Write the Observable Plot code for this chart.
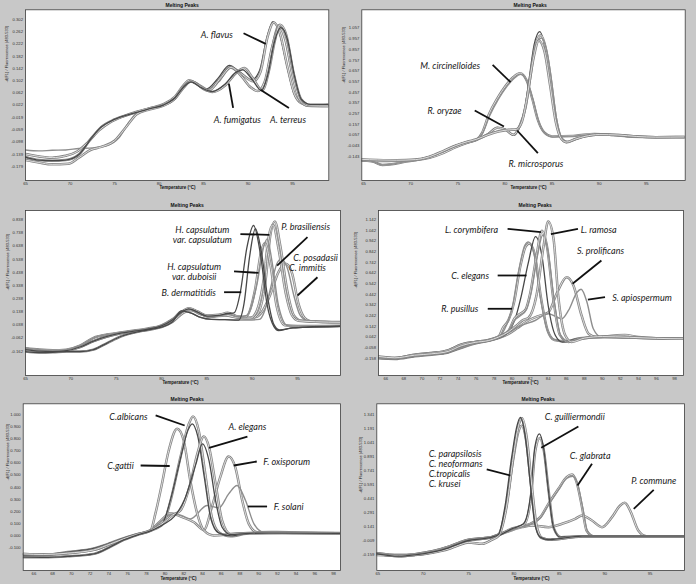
<!DOCTYPE html>
<html><head><meta charset="utf-8">
<script src="https://cdn.jsdelivr.net/npm/d3@7"></script>
<script src="https://cdn.jsdelivr.net/npm/@observablehq/plot@0.6"></script>
<style>
html,body{margin:0;padding:0;background:#c8c8c8;}
#root{position:relative;width:696px;height:584px;overflow:hidden;background:#c8c8c8;}
#root svg{position:absolute;}
</style></head><body><div id="root"></div>
<script>
// ---------- shared text ----------
const titleText = "Melting Peaks";
const xAxisLabel = "Temperature (°C)";
const yAxisLabel = "-d(F1) / Fluorescence (483-533)";
const xTicks5 = [65,70,75,80,85,90,95];
const xTicks2 = [66,68,70,72,74,76,78,80,82,84,86,88,90,92,94,96,98];

// ---------- panel 1 : Aspergillus ----------
const p1_yticks = [0.302,0.262,0.222,0.182,0.142,0.102,0.062,0.022,-0.019,-0.059,-0.098,-0.139,-0.179];
const p1_low_a = [[65,-0.138],[66.5,-0.146],[68,-0.15],[69.5,-0.144],[70.8,-0.13],[72,-0.1],[73.3,-0.06],[74.5,-0.035],[76,-0.015],[77.5,0.0]];
const p1_low_b = [[65,-0.158],[66.5,-0.166],[68,-0.172],[69.8,-0.17],[71,-0.15],[72.3,-0.125],[73.5,-0.115],[75,-0.095],[76.3,-0.05],[77.5,-0.008]];
const p1_low_c = [[65,-0.125],[66.5,-0.128],[68,-0.126],[69.5,-0.125],[71,-0.12],[72.5,-0.118],[74,-0.112],[75.5,-0.085],[76.6,-0.035],[77.6,-0.002]];
const p1_low_d = [[65,-0.148],[66.5,-0.158],[68,-0.16],[69.5,-0.158],[71,-0.14],[72.3,-0.09],[73.5,-0.05],[75,-0.025],[76.5,-0.01],[77.7,0.0]];
const p1_flavus_a = [[79,0.01],[80.5,0.024],[81.8,0.048],[82.6,0.08],[83.3,0.1],[84.2,0.09],[85.3,0.074],[86.6,0.108],[87.9,0.152],[89.1,0.13],[90.4,0.104],[91.3,0.135],[92.1,0.24],[92.8,0.295],[93.5,0.262],[94.3,0.16],[95.1,0.065],[95.9,0.03],[96.8,0.02],[99.1,0.024]];
const p1_flavus_b = [[79,0.012],[80.5,0.025],[81.8,0.05],[82.7,0.085],[83.4,0.103],[84.3,0.09],[85.4,0.07],[86.7,0.1],[88,0.145],[89.2,0.125],[90.6,0.1],[91.4,0.13],[92.2,0.245],[92.9,0.292],[93.6,0.255],[94.4,0.15],[95.2,0.06],[96,0.028],[97,0.02],[99.1,0.022]];
const p1_fumig_a = [[79,0.01],[80.5,0.02],[81.8,0.042],[82.7,0.078],[83.5,0.098],[84.5,0.085],[85.5,0.068],[86.8,0.108],[88,0.148],[89.2,0.118],[90.2,0.082],[91,0.068],[91.8,0.09],[92.6,0.2],[93.4,0.285],[94.1,0.245],[94.9,0.13],[95.7,0.045],[96.6,0.022],[99.1,0.02]];
const p1_fumig_b = [[79,0.012],[80.5,0.022],[81.8,0.044],[82.7,0.08],[83.6,0.1],[84.6,0.086],[85.6,0.07],[86.9,0.11],[88.1,0.145],[89.3,0.115],[90.3,0.08],[91.1,0.068],[91.9,0.1],[92.7,0.21],[93.5,0.276],[94.2,0.235],[95,0.12],[95.8,0.04],[96.7,0.02],[99.1,0.018]];
const p1_terreus_a = [[79,0.008],[80.5,0.02],[81.8,0.043],[82.8,0.08],[83.6,0.1],[84.8,0.08],[86,0.065],[87.4,0.085],[88.7,0.128],[89.6,0.143],[90.5,0.112],[91.6,0.07],[92.4,0.14],[93,0.23],[93.6,0.285],[94.3,0.252],[95.1,0.13],[96,0.04],[97,0.022],[99.1,0.022]];
const p1_terreus_b = [[79,0.01],[80.5,0.022],[81.8,0.046],[82.8,0.082],[83.6,0.098],[84.8,0.078],[86,0.066],[87.4,0.09],[88.6,0.128],[89.4,0.137],[90.4,0.108],[91.5,0.07],[92.3,0.13],[92.9,0.22],[93.7,0.275],[94.4,0.24],[95.2,0.12],[96,0.04],[97,0.024],[99.1,0.024]];
const p1_labels = [{text:"A. flavus",x:86.5,y:0.252},{text:"A. fumigatus",x:88.8,y:-0.025},{text:"A. terreus",x:94.5,y:-0.025}];
const p1_leaders = [{x1:89.5,y1:0.257,x2:92.0,y2:0.222},{x1:87.85,y1:0.092,x2:88.33,y2:0.013},{x1:91.4,y1:0.072,x2:94.6,y2:0.012}];

// ---------- panel 2 : Mucorales ----------
const p2_yticks = [1.057,0.957,0.857,0.757,0.657,0.557,0.457,0.357,0.257,0.157,0.057,-0.043,-0.143];
const p2_low_a = [[64.8,-0.175],[66,-0.19],[67,-0.222],[68,-0.215],[69.5,-0.19],[71,-0.17],[72.3,-0.14],[73.5,-0.095],[74.8,-0.045],[76,-0.01],[77,0.015]];
const p2_low_b = [[64.8,-0.17],[66.5,-0.175],[68.5,-0.178],[70.5,-0.172],[72,-0.145],[73.5,-0.09],[74.8,-0.04],[76,-0.005],[77,0.018]];
const p2_low_c = [[64.8,-0.18],[66.5,-0.185],[68.5,-0.183],[70.5,-0.175],[72,-0.155],[73.5,-0.11],[74.8,-0.055],[76,-0.015],[77,0.012]];
const p2_circ_a = [[77.6,0.08],[78.3,0.25],[79.2,0.4],[80.1,0.52],[80.9,0.6],[81.6,0.636],[82.3,0.57],[82.9,0.4],[83.5,0.2],[84.2,0.08],[85,0.045],[86,0.047],[87.5,0.052],[89.5,0.068],[91.5,0.058],[93.5,0.042],[96,0.038],[99.2,0.038]];
const p2_circ_b = [[77.6,0.07],[78.4,0.24],[79.3,0.39],[80.2,0.51],[81,0.59],[81.7,0.625],[82.4,0.55],[83,0.38],[83.6,0.18],[84.3,0.07],[85.1,0.04],[86,0.045],[87.5,0.05],[89.5,0.064],[91.5,0.056],[93.5,0.04],[96,0.036],[99.2,0.036]];
const p2_oryzae_a = [[78.2,0.07],[79.2,0.13],[80.1,0.11],[80.9,0.055],[81.6,0.14],[82.1,0.3],[82.6,0.6],[83.1,0.9],[83.7,1.025],[84.3,0.86],[84.7,0.65],[85.3,0.24],[85.9,0.04],[86.5,-0.012],[87.5,0.02],[88.5,0.045],[90,0.065],[92,0.06],[94,0.045],[96,0.038],[99.2,0.04]];
const p2_oryzae_b = [[78.2,0.065],[79.2,0.125],[80.1,0.105],[80.9,0.06],[81.6,0.15],[82.2,0.32],[82.7,0.6],[83.2,0.88],[83.8,0.99],[84.4,0.84],[84.8,0.62],[85.4,0.22],[86,0.03],[86.6,-0.01],[87.5,0.02],[88.5,0.045],[90,0.062],[92,0.058],[94,0.044],[96,0.038],[99.2,0.04]];
const p2_micro_a = [[78.2,0.065],[79.3,0.095],[80.3,0.11],[81.2,0.115],[81.8,0.2],[82.3,0.38],[82.8,0.66],[83.3,0.9],[83.9,0.965],[84.5,0.82],[84.9,0.6],[85.5,0.2],[86.1,0.02],[86.7,-0.005],[87.6,0.02],[88.6,0.045],[90,0.06],[92,0.058],[94,0.043],[96,0.038],[99.2,0.04]];
const p2_micro_b = [[78.2,0.06],[79.3,0.09],[80.3,0.105],[81.2,0.11],[81.8,0.18],[82.3,0.38],[83,0.76],[83.6,0.94],[84.2,0.84],[84.8,0.52],[85.4,0.18],[86,0.02],[86.5,-0.008],[87.5,0.02],[88.5,0.045],[90,0.062],[92,0.058],[94,0.044],[96,0.038],[99.2,0.04]];
const p2_labels = [{text:"M. circinelloides",x:74.2,y:0.708},{text:"R. oryzae",x:73.6,y:0.287},{text:"R. microsporus",x:83.3,y:-0.212}];
const p2_leaders = [{x1:78.7,y1:0.714,x2:80.6,y2:0.552},{x1:76.8,y1:0.287,x2:79.9,y2:0.137},{x1:81.3,y1:0.1,x2:83.5,y2:-0.112}];

// ---------- panel 3 : dimorphic fungi ----------
const p3_yticks = [0.838,0.738,0.638,0.538,0.438,0.338,0.238,0.138,0.038,-0.062,-0.162];
const p3_low_a = [[65,-0.15],[66.5,-0.162],[68,-0.165],[69.5,-0.158],[71,-0.13],[72.5,-0.085],[74,-0.05],[75.5,-0.025],[77,-0.01],[78.5,0.005],[80,0.03],[81.2,0.075]];
const p3_low_b = [[65,-0.165],[66.5,-0.172],[68,-0.17],[69.5,-0.165],[71,-0.165],[72.5,-0.15],[74,-0.1],[75.5,-0.05],[77,-0.02],[78.5,0.0],[80,0.022],[81.2,0.06]];
const p3_low_c = [[65,-0.14],[66.5,-0.15],[68,-0.155],[69.5,-0.15],[71,-0.12],[72.5,-0.06],[74,-0.035],[75.5,-0.02],[77,-0.005],[78.5,0.01],[80,0.035],[81.2,0.08]];
const p3_derm = [[82.1,0.13],[83,0.16],[84,0.135],[85,0.105],[86.3,0.11],[87.3,0.125],[88,0.13],[88.7,0.29],[89.4,0.62],[90.15,0.795],[90.9,0.58],[91.65,0.19],[92.4,0.025],[92.9,-0.005],[94.2,0.013],[96,0.02],[99.8,0.026]];
const p3_capsA = [[82.2,0.145],[83.2,0.13],[84.3,0.095],[85.5,0.08],[87,0.078],[88.5,0.075],[89.1,0.2],[89.7,0.55],[90.35,0.77],[91.0,0.6],[91.7,0.25],[92.4,0.04],[93.0,0.0],[94.5,0.015],[96,0.022],[99.8,0.028]];
const p3_dubo = [[82.3,0.14],[83.2,0.155],[84.2,0.125],[85.2,0.1],[86.5,0.11],[87.4,0.12],[88.5,0.1],[89.4,0.11],[90.5,0.34],[91.3,0.64],[91.65,0.693],[92.2,0.515],[92.9,0.186],[93.9,0.033],[95,0.03],[97,0.03],[99.8,0.033]];
const p3_dubo_b = [[82.1,0.13],[83,0.165],[84,0.14],[85,0.11],[86.3,0.115],[87.3,0.13],[88.3,0.105],[89.3,0.1],[90.3,0.3],[91.0,0.6],[91.4,0.66],[92.0,0.5],[92.7,0.18],[93.6,0.035],[95,0.03],[97,0.03],[99.8,0.032]];
const p3_bras = [[82.4,0.13],[83.3,0.15],[84.3,0.12],[85.5,0.1],[87,0.11],[88.5,0.095],[90,0.09],[90.6,0.12],[91.5,0.39],[92,0.72],[92.5,0.825],[93.1,0.64],[93.9,0.287],[94.6,0.11],[95.3,0.072],[97,0.064],[99.8,0.06]];
const p3_bras_b = [[82.3,0.14],[83.2,0.16],[84.2,0.125],[85.3,0.1],[86.8,0.115],[88.3,0.095],[89.8,0.09],[90.4,0.13],[91.3,0.4],[91.8,0.7],[92.3,0.8],[92.9,0.62],[93.7,0.28],[94.4,0.11],[95.1,0.07],[97,0.062],[99.8,0.058]];
const p3_posa = [[82.2,0.145],[83.2,0.13],[84.3,0.095],[85.5,0.08],[87,0.078],[88.5,0.075],[89.5,0.075],[90.8,0.08],[91.4,0.15],[92.0,0.31],[92.7,0.5],[93.2,0.541],[93.9,0.465],[94.6,0.26],[95.3,0.11],[96.1,0.07],[97.5,0.065],[99.8,0.062]];
const p3_immi = [[82.1,0.13],[83,0.16],[84,0.135],[85,0.105],[86.3,0.11],[87.3,0.125],[88.4,0.1],[89.5,0.09],[90.5,0.1],[91.2,0.15],[92,0.27],[92.9,0.44],[93.7,0.503],[94.4,0.43],[95.1,0.2],[95.8,0.09],[96.5,0.065],[98,0.06],[99.8,0.058]];
const p3_labels = [{text:"H. capsulatum\nvar. capsulatum",x:84.5,y:0.725},{text:"H. capsulatum\nvar. duboisii",x:83.6,y:0.44},{text:"B. dermatitidis",x:83.0,y:0.282},{text:"P. brasiliensis",x:95.9,y:0.782},{text:"C. posadasii",x:97.0,y:0.546},{text:"C. immitis",x:96.1,y:0.470}];
const p3_leaders = [{x1:88.7,y1:0.729,x2:91.9,y2:0.724},{x1:88.0,y1:0.445,x2:90.7,y2:0.434},{x1:86.9,y1:0.287,x2:88.8,y2:0.287},{x1:96.1,y1:0.706,x2:92.75,y2:0.49},{x1:97.2,y1:0.401,x2:95.0,y2:0.262}];

// ---------- panel 4 : Mucorales / Scedosporium ----------
const p4_yticks = [1.142,1.042,0.942,0.842,0.742,0.642,0.542,0.442,0.342,0.242,0.142,0.042,-0.058,-0.158];
const p4_low_a = [[65.2,-0.142],[67,-0.155],[69.2,-0.13],[71.1,-0.117],[72.9,-0.095],[74.4,-0.04],[75.9,-0.01],[77.4,0.008],[78.5,0.04]];
const p4_low_b = [[65.2,-0.16],[67,-0.165],[69.2,-0.14],[71.1,-0.125],[72.9,-0.105],[74.4,-0.06],[75.9,-0.02],[77.4,0.005],[78.5,0.03]];
const p4_low_c = [[65.2,-0.15],[67,-0.158],[69.2,-0.125],[71.1,-0.11],[72.9,-0.085],[74.4,-0.03],[75.9,-0.005],[77.4,0.012],[78.5,0.045]];
const p4_pus = [[79.2,0.12],[80,0.31],[80.7,0.65],[81.4,0.9],[81.8,0.935],[82.4,0.84],[83.1,0.43],[83.85,0.12],[84.6,0.017],[85.9,0.0],[87.5,0.03],[90,0.04],[93,0.035],[96,0.028],[99,0.024]];
const p4_pus_b = [[79.0,0.13],[79.6,0.2],[80.2,0.36],[80.9,0.7],[81.5,0.89],[81.9,0.92],[82.5,0.82],[83.2,0.41],[83.95,0.1],[84.7,0.012],[86,0.0],[87.5,0.03],[90,0.04],[93,0.035],[96,0.028],[99,0.024]];
const p4_eleg = [[79.5,0.08],[80.3,0.2],[81.0,0.42],[81.8,0.74],[82.6,0.985],[83.3,0.807],[84.0,0.337],[84.8,0.055],[85.6,-0.008],[87,0.02],[89,0.04],[92,0.04],[95,0.03],[99,0.024]];
const p4_cory = [[79.6,0.1],[80.3,0.22],[80.9,0.26],[81.5,0.3],[82,0.45],[82.7,0.8],[83.3,1.04],[83.85,0.9],[84.6,0.38],[85.3,0.06],[86.25,-0.005],[87.5,0.025],[90,0.04],[93,0.036],[96,0.028],[99,0.024]];
const p4_cory_b = [[79.6,0.1],[80.3,0.2],[80.9,0.24],[81.6,0.3],[82.1,0.45],[82.8,0.8],[83.4,1.0],[83.95,0.86],[84.7,0.36],[85.4,0.05],[86.3,-0.005],[87.5,0.025],[90,0.04],[93,0.036],[96,0.028],[99,0.024]];
const p4_ramo = [[79.6,0.09],[80.5,0.15],[81.2,0.2],[81.8,0.22],[82.7,0.43],[83.5,0.9],[84.0,1.126],[84.6,0.96],[85.1,0.44],[85.9,0.055],[86.6,-0.005],[88,0.03],[90,0.045],[93,0.038],[96,0.028],[99,0.024]];
const p4_prol = [[79.6,0.07],[80.5,0.12],[81.8,0.196],[83,0.24],[84,0.27],[85,0.46],[86.05,0.603],[86.8,0.525],[87.7,0.243],[88.5,0.07],[89.4,0.04],[91.4,0.055],[92.5,0.06],[94,0.04],[96,0.028],[99,0.024]];
const p4_apio = [[79.6,0.08],[80.8,0.14],[82.55,0.196],[84,0.26],[85.5,0.212],[86.25,0.29],[87.2,0.462],[87.65,0.49],[88.3,0.368],[89,0.118],[89.9,0.04],[91.5,0.045],[93,0.04],[96,0.028],[99,0.024]];
const p4_labels = [{text:"L. corymbifera",x:75.5,y:1.048},{text:"L. ramosa",x:89.6,y:1.048},{text:"C. elegans",x:75.35,y:0.613},{text:"R. pusillus",x:74.2,y:0.306},{text:"S. prolificans",x:89.8,y:0.854},{text:"S. apiospermum",x:94.4,y:0.409}];
const p4_leaders = [{x1:79.5,y1:1.057,x2:83.2,y2:1.026},{x1:87.3,y1:1.057,x2:84.3,y2:1.007},{x1:78.4,y1:0.619,x2:81.6,y2:0.619},{x1:77.3,y1:0.306,x2:80.0,y2:0.306},{x1:89.9,y1:0.76,x2:86.7,y2:0.541},{x1:90.3,y1:0.415,x2:88.4,y2:0.393}];

// ---------- panel 5 : Candida / Fusarium ----------
const p5_yticks = [1.0,0.9,0.8,0.7,0.6,0.5,0.4,0.3,0.2,0.1,0.0,-0.1];
const p5_low_a = [[64.9,-0.15],[67,-0.155],[69.6,-0.144],[72.4,-0.117],[74.2,-0.067],[75.6,-0.026],[77,0.01],[78.45,0.043]];
const p5_low_b = [[64.9,-0.177],[67,-0.178],[69.6,-0.17],[72.4,-0.15],[74.2,-0.09],[75.6,-0.035],[77,0.005],[78.45,0.04]];
const p5_low_c = [[64.9,-0.16],[67,-0.16],[69.6,-0.135],[72.4,-0.105],[74.2,-0.06],[75.6,-0.02],[77,0.012],[78.45,0.045]];
const p5_gattii = [[79.0,0.19],[79.6,0.4],[80.4,0.703],[81.3,0.882],[82,0.785],[82.7,0.455],[83.45,0.18],[84.15,0.043],[85.2,0.002],[87.35,0.015],[90,0.025],[94,0.022],[98.8,0.02]];
const p5_albA = [[79.8,0.1],[80.6,0.29],[81.65,0.648],[82.55,0.923],[83.0,0.983],[83.6,0.868],[84.3,0.51],[85.0,0.153],[85.75,0.029],[87,-0.004],[89.1,0.021],[93,0.022],[98.8,0.02]];
const p5_albB = [[79.8,0.11],[80.6,0.3],[81.6,0.62],[82.45,0.87],[82.9,0.923],[83.5,0.82],[84.2,0.48],[84.9,0.14],[85.7,0.025],[87,-0.002],[89,0.02],[93,0.022],[98.8,0.02]];
const p5_elegA = [[79.9,0.11],[80.8,0.17],[81.65,0.208],[82.7,0.428],[83.45,0.675],[84.15,0.818],[84.7,0.73],[85.4,0.428],[86.1,0.125],[87,0.015],[89,0.02],[93,0.022],[98.8,0.02]];
const p5_elegB = [[80,0.1],[81,0.16],[82.1,0.3],[83.3,0.59],[84.0,0.758],[84.7,0.62],[85.4,0.29],[86.1,0.07],[87,0.01],[89,0.02],[93,0.022],[98.8,0.02]];
const p5_oxy = [[79.5,0.12],[80.6,0.186],[81.85,0.153],[83.1,0.111],[84.15,0.048],[85,0.235],[85.9,0.483],[86.8,0.653],[87.5,0.566],[88.25,0.29],[88.95,0.098],[89.85,0.029],[92,0.03],[95,0.025],[98.8,0.022]];
const p5_sol = [[79.6,0.12],[80.95,0.18],[81.8,0.165],[82.7,0.139],[84.5,0.249],[85.75,0.23],[86.8,0.345],[87.7,0.414],[88.6,0.29],[89.5,0.098],[90.55,0.029],[93,0.028],[98.8,0.022]];
const p5_labels = [{text:"C.albicans",x:76.1,y:0.983},{text:"C.gattii",x:75.25,y:0.579},{text:"A. elegans",x:88.8,y:0.901},{text:"F. oxisporum",x:93.0,y:0.607},{text:"F. solani",x:93.2,y:0.235}];
const p5_leaders = [{x1:79.0,y1:0.992,x2:82.1,y2:0.909},{x1:77.4,y1:0.579,x2:80.5,y2:0.575},{x1:88.8,y1:0.818,x2:84.7,y2:0.725},{x1:89.8,y1:0.612,x2:87.35,y2:0.579},{x1:90.9,y1:0.241,x2:88.85,y2:0.241}];

// ---------- panel 6 : yeasts ----------
const p6_yticks = [1.341,1.191,1.041,0.891,0.741,0.591,0.441,0.291,0.141,-0.009,-0.159];
const p6_low_a = [[64.9,-0.152],[67.3,-0.177],[69.1,-0.163],[71,-0.134],[72.8,-0.088],[73.9,-0.045],[75,-0.009],[76.5,0.009],[77.6,0.027],[78.3,0.055]];
const p6_low_b = [[64.9,-0.165],[67.3,-0.172],[69.1,-0.165],[71,-0.14],[72.8,-0.1],[73.9,-0.06],[75,-0.03],[76.5,-0.045],[77.6,0.0],[78.3,0.04]];
const p6_low_c = [[64.9,-0.145],[67.3,-0.165],[69.1,-0.155],[71,-0.125],[72.8,-0.075],[73.9,-0.035],[75,0.0],[76.5,0.015],[77.6,0.03],[78.3,0.05]];
const p6_para = [[79,0.348],[79.75,0.884],[80.3,1.205],[80.7,1.31],[81.2,1.134],[81.8,0.6],[82.3,0.17],[82.9,0.027],[83.8,0.0],[87.5,0.037],[98.8,0.037]];
const p6_neo = [[79.2,0.36],[79.95,0.9],[80.5,1.22],[80.9,1.3],[81.4,1.1],[82.0,0.55],[82.5,0.15],[83.1,0.02],[84,0.0],[87.5,0.035],[98.8,0.035]];
const p6_trop = [[79.1,0.34],[79.85,0.87],[80.4,1.18],[80.8,1.28],[81.3,1.1],[81.9,0.55],[82.4,0.15],[83,0.02],[84,0.0],[87.5,0.036],[98.8,0.036]];
const p6_krus = [[79.1,0.33],[79.9,0.85],[80.5,1.16],[80.85,1.22],[81.35,1.06],[81.95,0.52],[82.45,0.14],[83,0.02],[84,0.0],[87.5,0.036],[98.8,0.036]];
const p6_guil = [[79.75,0.116],[81.05,0.17],[81.8,0.455],[82.3,0.991],[82.8,1.134],[83.25,0.99],[83.8,0.527],[84.35,0.134],[85.1,0.027],[87,0.035],[98.8,0.037]];
const p6_guil_b = [[79.8,0.12],[81.1,0.16],[81.85,0.43],[82.35,0.95],[82.85,1.09],[83.3,0.95],[83.85,0.5],[84.4,0.12],[85.2,0.025],[87,0.035],[98.8,0.036]];
const p6_glab = [[80.5,0.134],[81.8,0.17],[82.9,0.241],[83.8,0.384],[84.9,0.545],[85.8,0.67],[86.4,0.698],[86.9,0.616],[87.5,0.348],[88,0.098],[88.75,0.037],[92,0.037],[98.8,0.037]];
const p6_glab_b = [[80.5,0.13],[81.8,0.165],[82.9,0.23],[83.8,0.37],[84.9,0.53],[85.8,0.655],[86.5,0.68],[87,0.6],[87.6,0.33],[88.1,0.09],[88.8,0.035],[92,0.036],[98.8,0.036]];
const p6_comm = [[80.9,0.134],[82,0.152],[83.8,0.134],[85.3,0.17],[86.75,0.223],[87.5,0.259],[88.6,0.205],[89.7,0.134],[90.8,0.241],[91.7,0.366],[92.2,0.395],[92.8,0.312],[93.7,0.098],[94.6,0.037],[98.8,0.037]];
const p6_labels = [{text:"C. guilliermondii",x:86.7,y:1.32},{text:"C. glabrata",x:88.4,y:0.902},{text:"P. commune",x:95.4,y:0.634}];
const p6_list = [{text:"C. parapsilosis\nC. neoformans\nC.tropicalis\nC. krusei",x:70.6,y:0.759}];
const p6_leaders = [{x1:77.0,y1:0.752,x2:79.6,y2:0.687},{x1:87.1,y1:1.212,x2:83.0,y2:0.984},{x1:88.6,y1:0.812,x2:87.0,y2:0.58},{x1:95.4,y1:0.534,x2:93.2,y2:0.33}];

// ---------- layout (absolute pixel frames) ----------
const panels = [
  {left:0,top:0,w:348,h:195,frame:[25,328.3,9.3,180],xd:[65,99.08],yd:[-0.2248,0.3336],xt:xTicks5,yt:p1_yticks,
   series:[[p1_low_a,p1_flavus_a,"dark"],[p1_low_d,p1_flavus_b,"light"],[p1_low_c,p1_fumig_a,"mid"],[p1_low_a,p1_fumig_b,"light"],[p1_low_b,p1_terreus_a,"light"],[p1_low_d,p1_terreus_b,"dark"]],
   labels:p1_labels,list:[],leaders:p1_leaders,title:[165,3],ylab:[6,82],xlab:[177,188.6]},
  {left:348,top:0,w:348,h:195,frame:[361.3,684.7,9.3,180],xd:[64.82,99.13],yd:[-0.3674,1.2284],xt:xTicks5,yt:p2_yticks,
   series:[[p2_low_a,p2_circ_a,"light"],[p2_low_c,p2_circ_b,"mid"],[p2_low_b,p2_oryzae_a,"dark"],[p2_low_c,p2_oryzae_b,"light"],[p2_low_a,p2_micro_a,"mid"],[p2_low_b,p2_micro_b,"light"]],
   labels:p2_labels,list:[],leaders:p2_leaders,title:[513,3],ylab:[343.5,83],xlab:[528,188.6]},
  {left:0,top:195,w:348,h:195,frame:[25,340,210,375],xd:[65,99.74],yd:[-0.347,0.909],xt:xTicks5,yt:p3_yticks,
   series:[[p3_low_a,p3_immi,"light"],[p3_low_c,p3_posa,"mid"],[p3_low_b,p3_bras,"light"],[p3_low_c,p3_bras_b,"light"],[p3_low_a,p3_dubo_b,"light"],[p3_low_c,p3_dubo,"mid"],[p3_low_b,p3_capsA,"dark"],[p3_low_a,p3_derm,"dark"]],
   labels:p3_labels,list:[],leaders:p3_leaders,title:[170,203],ylab:[7,290],xlab:[180,383.8]},
  {left:348,top:195,w:348,h:195,frame:[378,683,210,375],xd:[65.19,99.0],yd:[-0.321,1.2297],xt:xTicks2,yt:p4_yticks,
   series:[[p4_low_b,p4_prol,"light"],[p4_low_c,p4_apio,"mid"],[p4_low_c,p4_pus_b,"light"],[p4_low_a,p4_pus,"mid"],[p4_low_b,p4_eleg,"dark"],[p4_low_c,p4_cory,"light"],[p4_low_b,p4_cory_b,"mid"],[p4_low_a,p4_ramo,"light"]],
   labels:p4_labels,list:[],leaders:p4_leaders,title:[518,203],ylab:[355,288],xlab:[520,383.8]},
  {left:0,top:390,w:348,h:194,frame:[22.7,340,403.3,570],xd:[64.86,98.74],yd:[-0.287,1.088],xt:xTicks2,yt:p5_yticks,
   series:[[p5_low_c,p5_oxy,"light"],[p5_low_a,p5_sol,"mid"],[p5_low_a,p5_gattii,"light"],[p5_low_b,p5_albA,"light"],[p5_low_c,p5_albB,"dark"],[p5_low_a,p5_elegA,"light"],[p5_low_b,p5_elegB,"dark"]],
   labels:p5_labels,list:[],leaders:p5_leaders,title:[170,397],ylab:[7,480],xlab:[178,579]},
  {left:348,top:390,w:348,h:194,frame:[376.3,684,403.3,570],xd:[64.89,98.79],yd:[-0.3304,1.4553],xt:xTicks5,yt:p6_yticks,
   series:[[p6_low_c,p6_comm,"light"],[p6_low_a,p6_glab,"light"],[p6_low_b,p6_glab_b,"mid"],[p6_low_c,p6_guil_b,"light"],[p6_low_b,p6_guil,"dark"],[p6_low_a,p6_krus,"light"],[p6_low_c,p6_trop,"mid"],[p6_low_b,p6_neo,"light"],[p6_low_a,p6_para,"dark"]],
   labels:p6_labels,list:p6_list,leaders:p6_leaders,title:[521,397],ylab:[360,493],xlab:[531,579]}
];

const annFont = "Lato, 'Open Sans', sans-serif";
const annSize = 9;
const root = document.getElementById("root");

for (const p of panels) {
  const [L,R,T,B] = p.frame;
  const cx = (L+R)/2, cy = (T+B)/2;
  const marks = [Plot.frame({fill:"white"})];
  for (const [low, peak, tone] of p.series) {
    const data = low.concat(peak).map(([t,v]) => ({t, v}));
    const o = {x:"t", y:"v", curve:"monotone-x", clip:true, strokeLinejoin:"round"};
    if (tone === "light") {
      marks.push(Plot.line(data, {...o, stroke:"#858585", strokeWidth:2.5}));
      marks.push(Plot.line(data, {...o, stroke:"#e8e8e8", strokeWidth:0.9}));
    } else if (tone === "mid") {
      marks.push(Plot.line(data, {...o, stroke:"#8e8e8e", strokeWidth:1.4}));
    } else {
      marks.push(Plot.line(data, {...o, stroke:"#484848", strokeWidth:1.3}));
    }
  }
  marks.push(Plot.frame({stroke:"#3c3c3c", strokeWidth:0.8}));
  marks.push(Plot.link(p.leaders, {x1:"x1", y1:"y1", x2:"x2", y2:"y2", stroke:"#111", strokeWidth:1.8}));
  marks.push(Plot.text(p.labels, {x:"x", y:"y", text:"text", fontFamily:annFont, fontStyle:"italic", fontSize:annSize, fill:"#1a1a1a", lineHeight:1.1}));
  if (p.list.length) marks.push(Plot.text(p.list, {x:"x", y:"y", text:"text", textAnchor:"start", fontFamily:annFont, fontStyle:"italic", fontSize:annSize, fill:"#1a1a1a", lineHeight:1.12}));
  marks.push(Plot.text([titleText], {text:d=>d, frameAnchor:"top-left", dx:p.title[0]-L, dy:p.title[1]-T, fontWeight:"bold", fontSize:5, fill:"#111"}));
  marks.push(Plot.text([xAxisLabel], {text:d=>d, frameAnchor:"bottom", dx:p.xlab[0]-cx, dy:p.xlab[1]-B, fontWeight:"bold", fontSize:4.5, fill:"#111"}));
  marks.push(Plot.text([yAxisLabel], {text:d=>d, frameAnchor:"left", dx:p.ylab[0]-L, dy:p.ylab[1]-cy, rotate:-90, fontSize:4, fill:"#222"}));
  const svg = Plot.plot({
    width:p.w, height:p.h,
    marginLeft:L-p.left, marginRight:p.left+p.w-R, marginTop:T-p.top, marginBottom:p.top+p.h-B,
    x:{domain:p.xd, ticks:p.xt, tickSize:0, tickPadding:1.2, tickFormat:d=>String(d), label:null},
    y:{domain:p.yd, ticks:p.yt, tickSize:0, tickPadding:2.5, tickFormat:d=>d.toFixed(3), label:null},
    style:{fontFamily:"'Liberation Sans', Arial, sans-serif", fontSize:"4.2px", color:"#333", background:"transparent", overflow:"visible"},
    marks
  });
  svg.style.left = p.left + "px";
  svg.style.top = p.top + "px";
  svg.style.maxWidth = "none";
  root.appendChild(svg);
}
</script></body></html>
